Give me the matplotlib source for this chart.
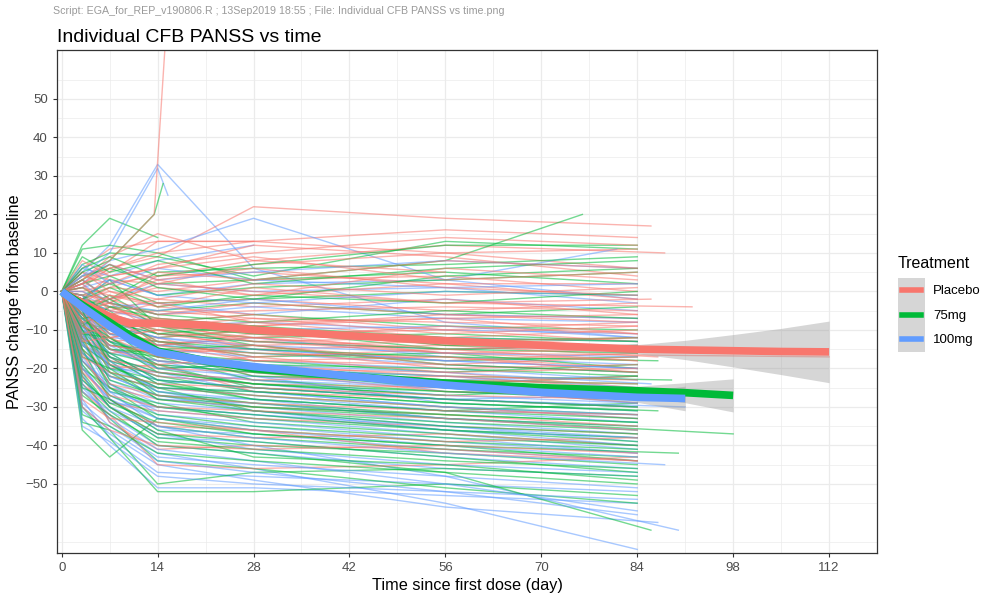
import numpy as np
import matplotlib
matplotlib.use("Agg")
import matplotlib.pyplot as plt
from matplotlib.patches import Rectangle
from matplotlib.lines import Line2D

plt.rcParams['font.family'] = ['Liberation Sans', 'DejaVu Sans']

# nominal visit days (change from baseline, PANSS total)
visits = [0, 3, 7, 14, 28, 56, 84]

placebo = [
    [0, 2, 5, 13, 13, 16, 14],
    [0, 1, 6, 9, 22, 19, 17],
    [0, 6, 11, 13, 13, 10, 6],
    [0, 3, 9, 15, 8, 12, 10],
    [0, -2, 4, 6, 12, 9, 4],
    [0, 5, 3, 2, 7, 10, 11],
    [0, 0, 2, 4, 5, 2, 2],
    [0, -1, 1, 0, 3, 4, 0],
    [0, 3, -2, 1, -1, 2, -2],
    [0, -2, -3, 2, 0, -3, -4],
    [0, 1, -1, -3, -2, -5, -3],
    [0, -3, -5, -2, -4, -2, -6],
    [0, -4, -2, -6, -3, -6, -7],
    [0, -2, -6, -5, -7, -8, -9],
    [0, 0, -4, -8, -6, -10, -8],
    [0, -5, -8, -7, -9, -7, -11],
    [0, -3, -7, -10, -8, -12, -10],
    [0, -6, -4, -9, -11, -10, -13],
    [0, -1, -9, -12, -10, -14, -12],
    [0, -4, -10, -8, -13, -12, -16],
    [0, -7, -6, -11, -12, -15, -14],
    [0, -2, -8, -14, -11, -16, -18],
    [0, -5, -12, -10, -15, -14, -17],
    [0, -8, -11, -13, -14, -18, -16],
    [0, -3, -9, -15, -16, -17, -20],
    [0, -6, -13, -12, -18, -19, -21],
    [0, -10, -14, -16, -15, -20, -19],
    [0, -4, -7, -17, -19, -22, -23],
    [0, -9, -15, -18, -20, -21, -25],
    [0, -12, -16, -15, -22, -24, -22],
    [0, -7, -18, -20, -21, -26, -27],
    [0, -14, -17, -22, -24, -25, -29],
    [0, -11, -20, -19, -26, -28, -30],
    [0, -15, -22, -25, -27, -30, -33],
    [0, -18, -25, -28, -30, -32, -35],
    [0, -20, -29, -31, -33, -35, -37],
    [0, -24, -30, -37, -38, -37, -40],
    [0, -22, -34, -41, -40, -41, -44],
    [0, -16, -28, -35, -36, -42, -44],
    [0, -26, -32, -45, -46, -45, -43],
    [0, -5, -3, 4, 8, 5],
    [0, -2, 0, -4, -6],
    [0, 2, 6, 10, 13],
    [0, -6, -10, -14, -12, -16, -17],
    [0, 4, 2, 7, 10, 14, 12],
    [0, -3, 1, 5, 3, 8, 6],
    [0, 8, 4, 6, 9, 3, 5],
    [0, 2, 7, 3, -1, 6, 3],
    [0, -1, -2, 3, 6, 1, -1],
    [0, 5, 0, -2, 2, -1, 1],
    [0, -6, -1, -4, 1, -3, -2],
    [0, 1, -3, -6, -5, -4, -5],
    [0, -4, -6, -3, -8, -7, -6],
    [0, 2, -5, -7, -9, -6, -8],
    [0, -8, -6, -9, -7, -11, -9],
    [0, -3, -11, -9, -12, -9, -11],
    [0, -5, -3, -11, -14, -13, -12],
    [0, -9, -12, -10, -13, -16, -15],
    [0, -2, -7, -13, -17, -15, -18],
    [0, -6, -14, -16, -14, -19, -17],
    [0, -11, -9, -14, -18, -17, -21],
    [0, -4, -15, -19, -17, -21, -20],
    [0, -13, -12, -17, -20, -23, -24],
    [0, -8, -19, -21, -23, -22, -26],
    [0, -17, -21, -24, -25, -27, -28],
    [0, -12, -24, -27, -29, -31, -32],
    [0, -21, -27, -30, -31, -33, -36],
    [0, -28, -33, -34, -36, -39, -38],
    [0, -30, -36, -40, -41, -40, -42],
]
placebo_last = {1: 86, 3: 88, 9: 92, 22: 87, 43: 112, 50: 86, 63: 89}

mg75 = [
    [0, 12, 19, 14],
    [0, 11, 12, 10, 3, 5, 2],
    [0, 7, 10, 9, 4, 13, 11],
    [0, 4, 6, 2, 3, 8, 20],
    [0, 3, -2, 5, 6, 7, 9],
    [0, 2, 4, -1, 1, 3, 5],
    [0, -1, 2, -3, -2, 0, -1],
    [0, -2, -4, -5, -3, -6, -4],
    [0, -4, -1, -8, -6, -9, -10],
    [0, -3, -7, -10, -12, -11, -13],
    [0, -6, -9, -12, -10, -15, -14],
    [0, -2, -5, -14, -16, -18, -17],
    [0, -5, -11, -13, -17, -16, -20],
    [0, -8, -10, -16, -18, -21, -19],
    [0, -4, -12, -18, -20, -22, -23],
    [0, -7, -14, -15, -21, -24, -22],
    [0, -3, -9, -20, -19, -25, -26],
    [0, -10, -15, -17, -23, -26, -28],
    [0, -6, -13, -21, -24, -27, -25],
    [0, -9, -16, -19, -25, -28, -30],
    [0, -12, -18, -22, -26, -29, -31],
    [0, -5, -17, -24, -27, -30, -32],
    [0, -11, -20, -23, -28, -31, -29],
    [0, -14, -19, -26, -29, -32, -34],
    [0, -8, -21, -28, -30, -33, -35],
    [0, -16, -22, -25, -31, -34, -36],
    [0, -13, -24, -30, -33, -36, -38],
    [0, -18, -26, -29, -34, -37, -40],
    [0, -20, -25, -33, -36, -39, -41],
    [0, -15, -28, -35, -38, -41, -43],
    [0, -22, -30, -38, -40, -42, -45],
    [0, -36, -43, -33, -37, -40, -44],
    [0, -34, -36, -50, -47, -46, -48],
    [0, -30, -38, -52, -52, -50, -53],
    [0, -26, -33, -44, -46, -51, -55],
    [0, -24, -31, -40, -42, -47, -62],
    [0, -10, -18, -27, -29, -33, -37],
    [0, -2, 3, -9, -14],
    [0, -7, -12, -20, -24, -27],
    [0, -1, -6, -11, -13, -15, -16],
    [0, -9, -4, -7, -9, -12, -13],
    [0, 6, 9, 4, 7, 12, 12],
    [0, 9, 5, 8, 2, 6, 8],
    [0, 3, 7, 1, -2, 4, 6],
    [0, -2, 1, -4, -1, -3, 0],
    [0, 1, -3, -6, -8, -5, -7],
    [0, -5, -2, -9, -11, -13, -12],
    [0, -3, -8, -11, -9, -14, -15],
    [0, -7, -6, -13, -15, -17, -18],
    [0, -4, -10, -15, -14, -19, -21],
    [0, -9, -13, -17, -19, -20, -22],
    [0, -6, -15, -16, -22, -23, -24],
    [0, -11, -12, -19, -21, -25, -27],
    [0, -8, -17, -21, -24, -26, -27],
    [0, -13, -16, -23, -25, -28, -30],
    [0, -5, -19, -25, -26, -29, -31],
    [0, -15, -21, -24, -28, -31, -33],
    [0, -10, -23, -27, -30, -32, -34],
    [0, -17, -20, -28, -31, -35, -37],
    [0, -12, -25, -30, -32, -36, -39],
    [0, -19, -27, -32, -35, -38, -40],
    [0, -23, -29, -34, -37, -40, -42],
    [0, -27, -32, -39, -41, -44, -46],
    [0, -32, -35, -42, -44, -47, -50],
    [0, -25, -28, -36, -43, -45, -49],
    [0, -21, -30, -37, -39, -43, -47],
]
mg75_last = {3: 76, 14: 89, 20: 87, 35: 86, 36: 98, 48: 87, 61: 90}

mg100 = [
    [0, 5, 12, 33, 6, -8, -12],
    [0, 2, 8, 11, 19, 3, -2],
    [0, 6, 4, 8, 12],
    [0, 1, 3, -1, 2, 3, 11],
    [0, 3, -2, 2, 0, 1, -3],
    [0, -1, -4, -3, -6, -2, -5],
    [0, -3, -6, -9, -8, -10, -11],
    [0, -5, -8, -11, -13, -15, -14],
    [0, -2, -10, -14, -12, -17, -19],
    [0, -7, -12, -13, -16, -19, -21],
    [0, -4, -11, -17, -18, -20, -23],
    [0, -9, -14, -16, -20, -23, -22],
    [0, -6, -13, -19, -21, -24, -26],
    [0, -3, -15, -20, -19, -26, -28],
    [0, -11, -16, -18, -23, -25, -29],
    [0, -8, -18, -22, -24, -28, -27],
    [0, -12, -17, -24, -22, -29, -31],
    [0, -5, -20, -21, -26, -30, -33],
    [0, -14, -19, -25, -27, -31, -32],
    [0, -10, -22, -27, -28, -33, -35],
    [0, -16, -21, -26, -30, -34, -37],
    [0, -13, -24, -29, -31, -36, -38],
    [0, -18, -25, -31, -33, -37, -41],
    [0, -15, -27, -33, -35, -39, -42],
    [0, -20, -28, -36, -37, -41, -44],
    [0, -22, -30, -38, -39, -43, -46],
    [0, -25, -32, -40, -42, -46, -48],
    [0, -28, -38, -47, -48, -50, -52],
    [0, -33, -40, -51, -51, -53, -55],
    [0, -31, -37, -45, -49, -56, -60],
    [0, -21, -34, -42, -46, -55, -67],
    [0, -17, -26, -35, -40, -48, -62],
    [0, -9, -16, -23, -25, -28, -30],
    [0, -6, -9, -15, -17],
    [0, -2, -5, -8, -10, -12, -13],
    [0, -12, -8, -12, -15, -18, -20],
    [0, 0, -3, -6, -4, -7, -8],
    [0, -19, -29, -30, -32, -35, -39],
    [0, 4, 7, 3, 5, 8, 6],
    [0, 7, 2, 6, 3, 1, 2],
    [0, -2, 3, -1, -3, 0, -1],
    [0, 2, -3, -5, -2, -6, -7],
    [0, -4, -7, -8, -10, -9, -12],
    [0, -1, -9, -12, -14, -16, -17],
    [0, -6, -11, -14, -15, -18, -20],
    [0, -8, -13, -16, -19, -21, -24],
    [0, -5, -15, -18, -20, -22, -25],
    [0, -10, -14, -20, -22, -25, -27],
    [0, -7, -17, -21, -23, -27, -29],
    [0, -12, -19, -23, -25, -28, -30],
    [0, -9, -20, -25, -26, -30, -32],
    [0, -14, -18, -26, -28, -31, -34],
    [0, -11, -23, -28, -29, -33, -36],
    [0, -16, -22, -27, -31, -35, -38],
    [0, -13, -26, -30, -32, -36, -40],
    [0, -18, -24, -32, -34, -38, -42],
    [0, -20, -28, -33, -36, -40, -43],
    [0, -23, -30, -35, -38, -42, -45],
    [0, -26, -31, -37, -41, -45, -47],
    [0, -29, -35, -43, -45, -48, -51],
    [0, -35, -39, -48, -50, -52, -54],
    [0, -24, -33, -41, -44, -50, -57],
    [0, -30, -36, -44, -47, -52, -58],
]
mg100_last = {3: 81, 12: 88, 29: 87, 31: 90, 32: 91, 45: 86, 57: 88}

# subjects with off-schedule visits
placebo_odd = [([0, 3, 7, 13.5, 15.5], [0, 3, 8, 20, 75])]
mg75_odd = [([0, 3, 7, 13.5, 14.8], [0, 5, 8, 20, 28])]
mg100_odd = [([0, 3, 7, 14, 15.5], [0, 4, 10, 32, 25])]

# loess fit per arm with standard-error band half widths
smooth_days = [0, 3, 7, 10, 14, 21, 28, 42, 56, 70, 84, 91, 98, 105, 112]
placebo_fit = [0, -3, -6.5, -8.3, -8.2, -8.8, -10, -11.5, -12.8, -14, -15, -15.2, -15.4, -15.6, -15.7]
placebo_se = [1, 0.8, 0.8, 0.8, 0.8, 0.8, 0.8, 0.8, 0.8, 0.9, 1.2, 2.5, 4.2, 6, 8]
mg75_fit = [0, -3.5, -8, -11.5, -15.5, -18, -20, -22, -23.8, -25, -25.8, -26.3, -27]
mg75_se = [1, 0.8, 0.8, 0.8, 0.8, 0.8, 0.8, 0.8, 0.8, 0.9, 1.2, 2.6, 4.3]
mg100_fit = [0, -4, -9, -12.5, -15.8, -18, -19.5, -22, -24.3, -26.2, -27.5, -27.8]
mg100_se = [1, 0.8, 0.8, 0.8, 0.8, 0.8, 0.8, 0.8, 0.8, 0.9, 1.3, 3.2]

arms = ['Placebo', '75mg', '100mg']
colors = ['#F8766D', '#00BA38', '#619CFF']

fig = plt.figure(figsize=(9.81, 5.99), dpi=100)
ax = fig.add_axes([0.058, 0.077, 0.836, 0.8395])


def subject_curves(rows, last, odd):
    out = []
    for i, vals in enumerate(rows):
        days = list(visits[:len(vals)])
        if i in last:
            days[-1] = last[i]
        out.append((days, vals))
    return out + odd


groups = [subject_curves(placebo, placebo_last, placebo_odd),
          subject_curves(mg75, mg75_last, mg75_odd),
          subject_curves(mg100, mg100_last, mg100_odd)]

# interleave subjects so the arms overlap
n = max(len(g) for g in groups)
for i in range(n):
    for g, c in zip(groups, colors):
        if i < len(g):
            d, v = g[i]
            ax.plot(d, v, color=c, lw=1.0, alpha=0.55, zorder=2)

fits = [(placebo_fit, placebo_se), (mg75_fit, mg75_se), (mg100_fit, mg100_se)]
for (fit, se), c in zip(fits, colors):
    d = np.array(smooth_days[:len(fit)])
    f = np.array(fit)
    s = np.array(se)
    ax.fill_between(d, f - s, f + s, color='#999999', alpha=0.4, lw=0, zorder=3)
    ax.plot(d, f, color=c, lw=5.5, solid_capstyle='butt', zorder=4)

ax.set_xlim(-0.7, 119)
ax.set_ylim(-67.9, 62.7)
ax.set_xticks(np.arange(0, 113, 14))
ax.set_xticks(np.arange(7, 120, 14), minor=True)
ax.set_yticks(np.arange(-50, 51, 10))
ax.set_yticks(np.arange(-65, 62, 10), minor=True)
ax.grid(True, which='major', color='#EBEBEB', lw=0.9, zorder=0)
ax.grid(True, which='minor', color='#EBEBEB', lw=0.5, zorder=0)
ax.set_axisbelow(True)
ax.tick_params(which='major', length=3, width=0.8, color='#333333',
               labelcolor='#4D4D4D', labelsize=9.5)
ax.tick_params(which='minor', length=0)
for sp in ax.spines.values():
    sp.set_color('#333333')
    sp.set_linewidth(0.9)

ax.set_xlabel('Time since first dose (day)', fontsize=11.7, labelpad=3)
ax.set_ylabel('PANSS change from baseline', fontsize=11.7, labelpad=2)
ax.set_title('Individual CFB PANSS vs time', loc='left', fontsize=14, pad=6)
fig.text(0.054, 0.982, 'Script: EGA_for_REP_v190806.R ; 13Sep2019 18:55 ; File: Individual CFB PANSS vs time.png',
         fontsize=7.7, color='#9A9A9A', va='center', ha='left')


class KeyHandler:
    """grey ribbon square with the arm's line across it"""

    def legend_artist(self, legend, orig_handle, fontsize, handlebox):
        x0, y0 = -handlebox.xdescent, -handlebox.ydescent
        w, h = handlebox.width, handlebox.height
        tr = handlebox.get_transform()
        rect = Rectangle((x0, y0), w, h, facecolor='#D6D6D6', edgecolor='none', transform=tr)
        line = Line2D([x0 + 0.17 * w, x0 + 0.83 * w], [y0 + h / 2] * 2,
                      color=orig_handle.get_color(), lw=4, transform=tr)
        handlebox.add_artist(rect)
        handlebox.add_artist(line)
        return rect


handles = [Line2D([], [], color=c) for c in colors]
leg = ax.legend(handles, arms, title='Treatment', loc='upper left',
                bbox_to_anchor=(0.915, 0.573), bbox_transform=fig.transFigure,
                frameon=False, fontsize=9.5, title_fontsize=11.5, handlelength=2.1,
                handleheight=2.5, labelspacing=0.0, handletextpad=0.6, borderpad=0,
                borderaxespad=0, alignment='left', handler_map={Line2D: KeyHandler()})
# gap between the legend title and the keys
leg._legend_box.sep = 5

fig.savefig('out.png', dpi=100)
